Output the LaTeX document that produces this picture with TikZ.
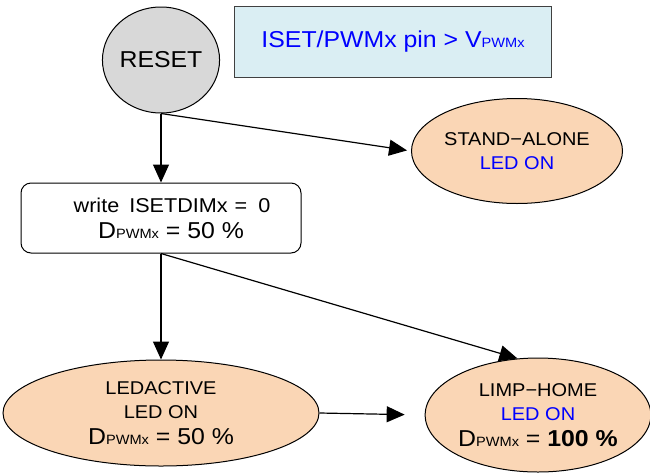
\documentclass[tikz,border=0pt]{standalone}
\usepackage{fontspec}
\setmainfont[FakeStretch=1.08]{Liberation Sans}
\usetikzlibrary{shapes.geometric}
\usetikzlibrary{arrows.meta}

\definecolor{resetgray}{HTML}{D8D8D8}
\definecolor{statepeach}{HTML}{FAD6B5}
\definecolor{notecyan}{HTML}{DAEEF3}
\definecolor{textblue}{HTML}{0000FF}

\newcommand{\medtxt}{\fontsize{18.5}{24}\selectfont}
\newcommand{\bigtxt}{\fontsize{23}{26}\selectfont}
\newcommand{\smallpwm}{{\fontsize{13.5}{13.5}\selectfont PWMx}}

\tikzset{
  statenode/.style={ellipse, draw, line width=1pt, fill=statepeach, inner sep=0pt, align=center, font=\medtxt},
}

\begin{document}
\begin{tikzpicture}[x=1pt,y=-1pt]
  \useasboundingbox (0,0) rectangle (650,472);
  \node[ellipse, draw, line width=1pt, fill=resetgray, minimum width=108pt, minimum height=106pt, inner sep=0pt, font=\bigtxt] (reset) at (161,60) {RESET};
  \node[draw=black!75, line width=1pt, fill=notecyan, minimum width=317pt, minimum height=71pt, font=\bigtxt, text=textblue] (note) at (393,42) {ISET/PWMx pin > V\smallpwm};
  \node[statenode, minimum width=211pt, minimum height=105pt] (standalone) at (517,151) {STAND−ALONE\\\textcolor{textblue}{LED ON}};
  \node[draw, line width=1pt, rounded corners=10pt, minimum width=280pt, minimum height=70pt, align=center, font=\medtxt] (write) at (161,218) {\hspace*{22pt}{\fontsize{20}{24}\selectfont write\hspace{0.5em}ISETDIMx\hspace{0.35em}=\hspace{0.55em}0}\\[2pt]\hspace*{20pt}{\bigtxt D\smallpwm{} = 50 \%}};
  \node[statenode, minimum width=316pt, minimum height=106pt] (ledactive) at (161,413) {LEDACTIVE\\LED ON\\[2pt]{\bigtxt D\smallpwm{} = 50 \%}};
  \node[statenode, minimum width=224pt, minimum height=114pt] (limphome) at (538,415) {LIMP−HOME\\\textcolor{textblue}{LED ON}\\[2pt]{\bigtxt D\smallpwm{} = \textbf{100 \%}}};
  \path[-{Triangle[length=18pt,width=16pt]}, line width=1.2pt]
    (reset.south) edge (write.north)
    (reset.south) edge[shorten >=4pt] (standalone.west)
    (write.south) edge (ledactive.north)
    (write.south) edge (limphome.110)
    (ledactive.east) edge[shorten >=20pt] (limphome.west);
\end{tikzpicture}
\end{document}
